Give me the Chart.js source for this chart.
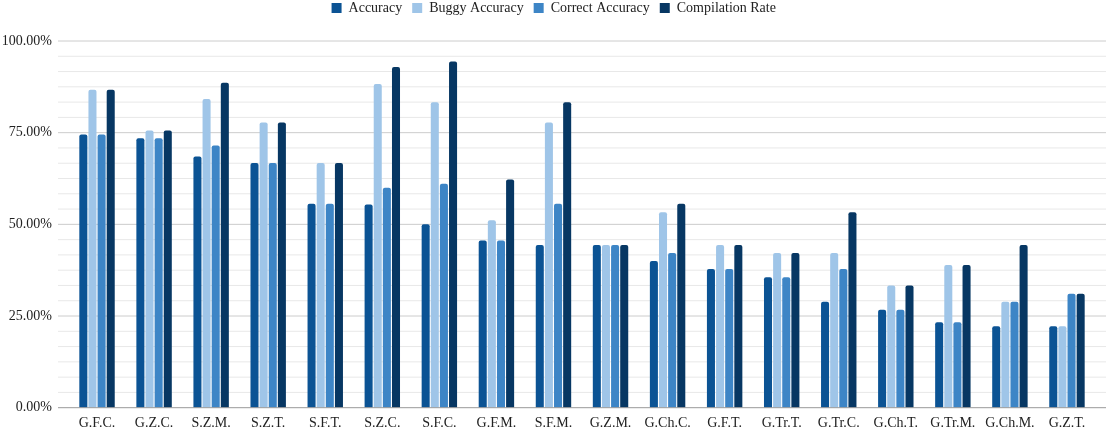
<!DOCTYPE html>
<html>
<head>
<meta charset="utf-8">
<script src="https://cdn.jsdelivr.net/npm/chart.js@4"></script>
<style>
html,body{margin:0;padding:0;background:#fff;}
#wrap{width:1111px;height:435px;}
</style>
</head>
<body>
<div id="wrap"><canvas id="c" width="1111" height="435"></canvas></div>
<script>
const categories = ["G.F.C.","G.Z.C.","S.Z.M.","S.Z.T.","S.F.T.","S.Z.C.","S.F.C.","G.F.M.","S.F.M.","G.Z.M.","G.Ch.C.","G.F.T.","G.Tr.T.","G.Tr.C.","G.Ch.T.","G.Tr.M.","G.Ch.M.","G.Z.T."];
const accuracy        = [74.5,73.5,68.5,66.7,55.6,55.4,50.0,45.6,44.4,44.4,40.0,37.8,35.6,28.9,26.7,23.3,22.2,22.2];
const buggyAccuracy   = [86.7,75.6,84.2,77.8,66.7,88.3,83.3,51.1,77.8,44.4,53.3,44.4,42.2,42.2,33.3,38.9,28.9,22.2];
const correctAccuracy = [74.5,73.5,71.5,66.7,55.6,60.0,61.1,45.6,55.6,44.4,42.2,37.8,35.6,37.8,26.7,23.3,28.9,31.1];
const compilationRate = [86.7,75.6,88.6,77.8,66.7,92.9,94.4,62.2,83.3,44.4,55.6,44.4,42.2,53.3,33.3,38.9,44.4,31.1];
const seriesNames = ["Accuracy","Buggy Accuracy","Correct Accuracy","Compilation Rate"];
const yTickValues = [0,25,50,75,100];
const yTickLabels = ["0.00%","25.00%","50.00%","75.00%","100.00%"];

const colors = ["#0b5394","#9fc5e8","#3d85c6","#073763"];
const seriesData = [accuracy, buggyAccuracy, correctAccuracy, compilationRate];
const FONT = "'Liberation Serif', 'DejaVu Serif', serif";

const gridPlugin = {
  id: 'customGrid',
  beforeInit(chart) {
    const lg = chart.legend;
    if (lg) {
      const origFit = lg.fit;
      lg.fit = function() { origFit.call(this); this.height += 16; };
      const origDraw = lg.draw;
      lg.draw = function() {
        const c = this.ctx;
        c.save();
        c.translate(6, 0);
        origDraw.call(this);
        c.restore();
      };
    }
  },
  beforeDatasetsDraw(chart) {
    const ctx = chart.ctx, y = chart.scales.y;
    ctx.save();
    ctx.lineWidth = 1;
    for (let i = 1; i <= 24; i++) {
      const py = y.getPixelForValue(i * 100 / 24);
      ctx.strokeStyle = (i % 6 === 0) ? '#cccccc' : '#e8e8e8';
      ctx.beginPath();
      ctx.moveTo(58, py);
      ctx.lineTo(1106, py);
      ctx.stroke();
    }
    ctx.restore();
  },
  afterDatasetsDraw(chart) {
    const ctx = chart.ctx, y = chart.scales.y;
    const py = y.getPixelForValue(0);
    ctx.save();
    ctx.strokeStyle = '#999999';
    ctx.lineWidth = 1;
    ctx.beginPath();
    ctx.moveTo(58, py);
    ctx.lineTo(1106, py);
    ctx.stroke();
    ctx.restore();
  }
};

new Chart(document.getElementById('c'), {
  type: 'bar',
  data: {
    labels: categories,
    datasets: seriesNames.map((n, i) => ({
      label: n,
      data: seriesData[i],
      backgroundColor: colors[i],
      borderRadius: {topLeft: 2, topRight: 2, bottomLeft: 0, bottomRight: 0},
      borderSkipped: false,
      barPercentage: 0.88,
      categoryPercentage: 0.64
    }))
  },
  plugins: [gridPlugin],
  options: {
    responsive: false,
    animation: false,
    layout: {padding: {left: 0, right: 15.5, top: -9, bottom: -3.5}},
    plugins: {
      legend: {
        position: 'top',
        labels: {
          font: {family: FONT, size: 14},
          color: '#222',
          boxWidth: 10, boxHeight: 10,
          padding: 10
        }
      },
      tooltip: {enabled: false}
    },
    scales: {
      x: {
        grid: {display: false, drawTicks: false},
        border: {display: false},
        ticks: {font: {family: FONT, size: 14}, color: '#222', padding: 7, maxRotation: 0, autoSkip: false}
      },
      y: {
        min: 0, max: 100,
        afterBuildTicks: (axis) => { axis.ticks = yTickValues.map(v => ({value: v})); },
        afterFit: (axis) => { axis.width = 68.5; },
        grid: {display: false, drawTicks: false},
        border: {display: false},
        ticks: {
          font: {family: FONT, size: 14}, color: '#222', padding: 16.5,
          autoSkip: false,
          callback: function(v, i) { return yTickLabels[i]; }
        }
      }
    }
  }
});
</script>
</body>
</html>
